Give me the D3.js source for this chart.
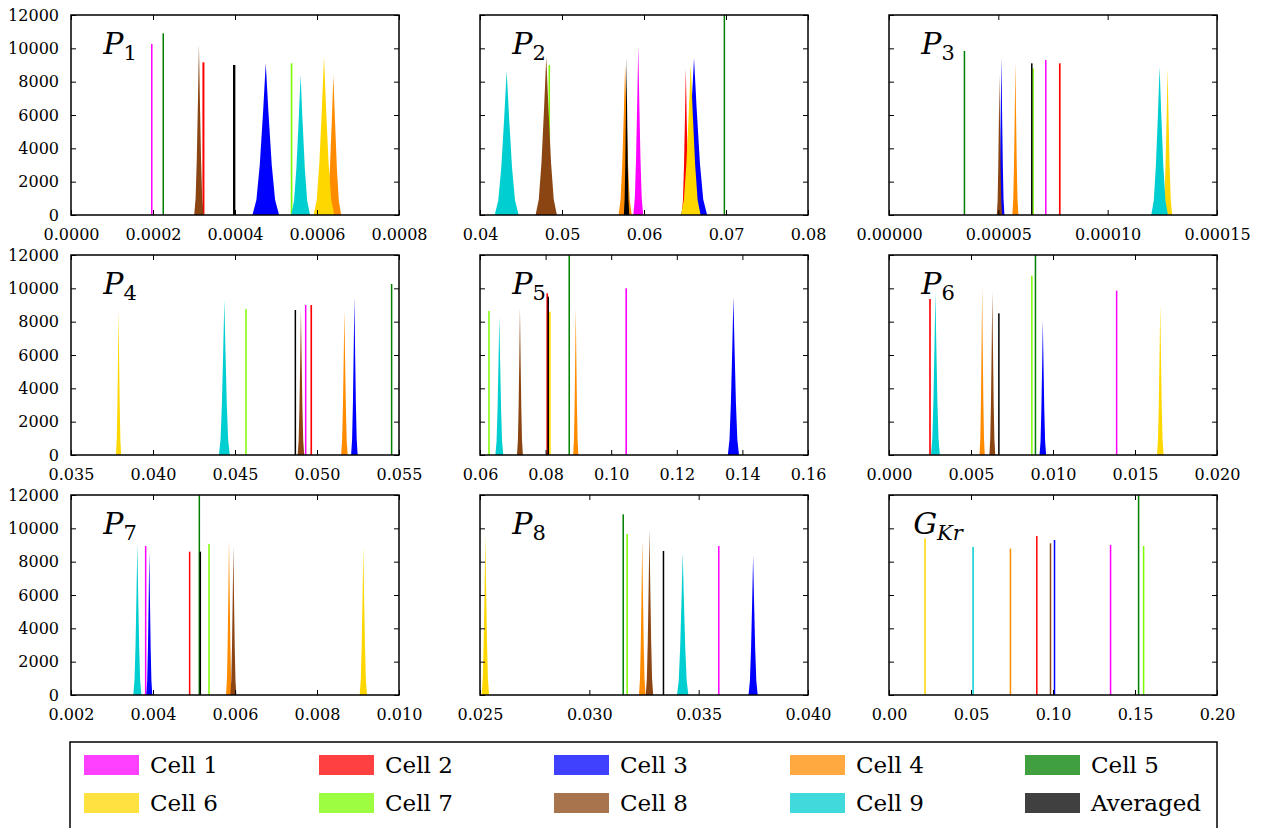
<!DOCTYPE html>
<html>
<head>
<meta charset="utf-8">
<title>Posterior histograms per parameter</title>
<script src="https://cdn.jsdelivr.net/npm/d3@7"></script>
<style>
  body { margin: 0; background: #fff; }
  svg text { font-family: "DejaVu Serif", serif; fill: #000; }
</style>
</head>
<body>
<div id="main"></div>
<script>
// series shown in every panel
var seriesNames = ['Cell 1', 'Cell 2', 'Cell 3', 'Cell 4', 'Cell 5',
                   'Cell 6', 'Cell 7', 'Cell 8', 'Cell 9', 'Averaged'];
var seriesColours = ['#ff00ff', '#ff0000', '#0000ff', '#ff8c00', '#008000',
                     '#ffd700', '#7cfc00', '#8b4513', '#00ced1', '#000000'];

// panel titles: [main symbol, subscript]
var panelLabels = [['P', '1'], ['P', '2'], ['P', '3'], ['P', '4'], ['P', '5'],
                   ['P', '6'], ['P', '7'], ['P', '8'], ['G', 'Kr']];

var xDomains = [[0, 0.0008], [0.04, 0.08], [0, 0.00015],
                [0.035, 0.055], [0.06, 0.16], [0, 0.02],
                [0.002, 0.010], [0.025, 0.040], [0, 0.20]];
var xTicks = [
  [0, 0.0002, 0.0004, 0.0006, 0.0008],
  [0.04, 0.05, 0.06, 0.07, 0.08],
  [0, 0.00005, 0.00010, 0.00015],
  [0.035, 0.040, 0.045, 0.050, 0.055],
  [0.06, 0.08, 0.10, 0.12, 0.14, 0.16],
  [0, 0.005, 0.010, 0.015, 0.020],
  [0.002, 0.004, 0.006, 0.008, 0.010],
  [0.025, 0.030, 0.035, 0.040],
  [0, 0.05, 0.10, 0.15, 0.20]
];
var xFormats = ['.4f', '.2f', '.5f', '.3f', '.2f', '.3f', '.3f', '.3f', '.2f'];
var yTicks = [0, 2000, 4000, 6000, 8000, 10000, 12000];

// each peak: [centre, peak count, half width of base], one row per series (null = not drawn)
var p1Peaks = [[0.000197, 10260, 2.4e-6], [0.000323, 9160, 4.9e-6], [0.000475, 9100, 3.25e-5],
               [0.000640, 8400, 1.9e-5], [0.000225, 10900, 1.6e-6], [0.000617, 9500, 2.5e-5],
               [0.000538, 9100, 4e-6], [0.000312, 10240, 1.15e-5], [0.000560, 8400, 2.3e-5],
               [0.000398, 9000, 5.7e-6]];
var p2Peaks = [[0.0593, 10160, 0.0006], [0.0651, 8800, 0.0005], [0.0661, 9400, 0.0016],
               [0.0577, 9000, 0.0008], [0.0698, 12500, 0.00008], [0.0657, 9040, 0.0012],
               [0.04845, 9000, 0.00008], [0.04808, 9500, 0.0013], [0.04325, 8640, 0.00146],
               [0.05787, 9500, 0.00033]];
var p3Peaks = [[7.17e-5, 9300, 4.6e-7], [7.81e-5, 9100, 7.6e-7], [5.14e-5, 9500, 1.4e-6],
               [5.78e-5, 9160, 1.4e-6], [3.45e-5, 9840, 3e-7], [1.274e-4, 8800, 2.1e-6],
               [6.59e-5, 8800, 4.6e-7], [5.05e-5, 8440, 1.2e-6], [1.2375e-4, 8900, 3.8e-6],
               [6.53e-5, 9100, 4.6e-7]];
var p4Peaks = [[0.04931, 9000, 8e-5], [0.04965, 9000, 1e-4], [0.05228, 9500, 2e-4],
               [0.05167, 8700, 2e-4], [0.05455, 10260, 4e-5], [0.0379, 8760, 1.6e-4],
               [0.04567, 8760, 6e-5], [0.04902, 8700, 2e-4], [0.04435, 9300, 3.3e-4],
               [0.04868, 8700, 6e-5]];
var p5Peaks = [[0.10457, 10000, 5e-4], [0.0805, 9700, 5e-4], [0.13726, 9500, 0.0017],
               [0.0892, 8840, 8e-4], [0.0872, 12500, 2e-4], [0.0813, 8600, 5e-4],
               [0.06274, 8640, 3e-4], [0.07218, 8800, 9e-4], [0.06589, 8300, 0.0012],
               [0.0808, 9500, 4e-4]];
var p6Peaks = [[0.01388, 9860, 6e-5], [0.0025, 9360, 1e-4], [0.00938, 8100, 2e-4],
               [0.00568, 10040, 1.6e-4], [0.00893, 12500, 4e-5], [0.01654, 9060, 2e-4],
               [0.00871, 10760, 6e-5], [0.0063, 9800, 1.8e-4], [0.00283, 9800, 2.7e-4],
               [0.0067, 8500, 6e-5]];
var p7Peaks = [[0.003821, 8940, 3.3e-5], [0.004894, 8600, 3.3e-5], [0.00391, 8640, 7.3e-5],
               [0.005854, 9340, 7.3e-5], [0.00513, 12500, 1.6e-5], [0.00913, 8900, 9e-5],
               [0.005366, 9060, 2.4e-5], [0.00596, 8940, 7.3e-5], [0.003618, 9060, 9.8e-5],
               [0.005154, 8600, 2.4e-5]];
var p8Peaks = [[0.03592, 8940, 6e-5], null, [0.03749, 8360, 2.1e-4],
               [0.03242, 9300, 1.5e-4], [0.03155, 10840, 3e-5], [0.025244, 9560, 1.7e-4],
               [0.03173, 9660, 4.5e-5], [0.03275, 9960, 1.7e-4], [0.03427, 8540, 2.6e-4],
               [0.03339, 8640, 4.5e-5]];
var p9Peaks = [[0.1351, 9000, 4e-4], [0.09013, 9540, 6e-4], [0.10092, 9300, 6e-4],
               [0.07406, 8780, 6e-4], [0.15219, 12500, 4e-4], [0.02197, 9400, 6e-4],
               [0.15524, 8940, 4e-4], [0.09847, 9100, 8e-4], [0.05127, 8880, 8e-4],
               null];
var panelPeaks = [p1Peaks, p2Peaks, p3Peaks, p4Peaks, p5Peaks, p6Peaks, p7Peaks, p8Peaks, p9Peaks];

// layout
var svgWidth = 1263, svgHeight = 828;
var colX = [71, 480, 889], rowY = [15, 255, 495];
var panelW = 328, panelH = 200;
var tickLen = 5;

// relative outline of one histogram peak (fraction of half width -> fraction of peak)
var shapeDx = [-1, -0.7, -0.45, -0.2, 0, 0.2, 0.45, 0.7, 1];
var shapeDy = [0, 0.1, 0.33, 0.68, 1, 0.68, 0.33, 0.1, 0];

var svg = d3.select('#main').append('svg')
  .attr('width', svgWidth)
  .attr('height', svgHeight);

var y = d3.scaleLinear().domain([0, 12000]).range([panelH, 0]);

panelPeaks.forEach(function(peaks, p) {
  var col = p % 3, row = Math.floor(p / 3);
  var g = svg.append('g')
    .attr('transform', 'translate(' + colX[col] + ',' + rowY[row] + ')');

  var x = d3.scaleLinear().domain(xDomains[p]).range([0, panelW]);

  g.append('clipPath').attr('id', 'clip' + p)
    .append('rect').attr('width', panelW).attr('height', panelH);

  var plot = g.append('g').attr('clip-path', 'url(#clip' + p + ')');

  peaks.forEach(function(pk, i) {
    if (!pk) return;
    var c = pk[0], h = pk[1], hw = pk[2];
    var halfPx = x(c + hw) - x(c);
    if (halfPx < 2.5) {
      // very narrow posterior: a single thin bar
      var w = Math.max(halfPx, 1.5);
      plot.append('rect')
        .attr('x', x(c) - w / 2)
        .attr('y', y(h))
        .attr('width', w)
        .attr('height', y(0) - y(h))
        .attr('fill', seriesColours[i]);
    } else {
      var pts = shapeDx.map(function(dx, k) { return [c + dx * hw, shapeDy[k] * h]; });
      var area = d3.area()
        .x(function(d) { return x(d[0]); })
        .y0(y(0))
        .y1(function(d) { return y(d[1]); });
      plot.append('path')
        .attr('d', area(pts))
        .attr('fill', seriesColours[i]);
    }
  });

  // axes, ticks pointing inward on all four sides
  var fmt = d3.format(xFormats[p]);
  var xb = d3.axisBottom(x).tickValues(xTicks[p]).tickFormat(fmt)
    .tickSizeInner(-tickLen).tickSizeOuter(0).tickPadding(14);
  var xt = d3.axisTop(x).tickValues(xTicks[p]).tickFormat('')
    .tickSizeInner(-tickLen).tickSizeOuter(0);
  var yl = d3.axisLeft(y).tickValues(yTicks).tickFormat(col === 0 ? d3.format('d') : '')
    .tickSizeInner(-tickLen).tickSizeOuter(0).tickPadding(12);
  var yr = d3.axisRight(y).tickValues(yTicks).tickFormat('')
    .tickSizeInner(-tickLen).tickSizeOuter(0);

  var axes = [
    g.append('g').attr('transform', 'translate(0,' + panelH + ')').call(xb),
    g.append('g').call(xt),
    g.append('g').call(yl),
    g.append('g').attr('transform', 'translate(' + panelW + ',0)').call(yr)
  ];
  axes.forEach(function(a) {
    a.attr('font-family', null);
    a.select('.domain').remove();
    a.selectAll('.tick line').attr('stroke', '#000').attr('stroke-width', 1);
    a.selectAll('.tick text')
      .style('font-family', '"DejaVu Serif", serif')
      .style('font-size', '16px')
      .attr('fill', '#000');
  });

  g.append('rect')
    .attr('width', panelW).attr('height', panelH)
    .attr('fill', 'none').attr('stroke', '#000').attr('stroke-width', 1.5);

  // panel title in math style
  var lab = g.append('text')
    .attr('x', 49).attr('y', 39)
    .attr('text-anchor', 'middle')
    .style('font-size', '30px');
  lab.append('tspan').style('font-style', 'italic').text(panelLabels[p][0]);
  lab.append('tspan')
    .attr('dy', 6)
    .style('font-size', '21px')
    .style('font-style', panelLabels[p][1] === 'Kr' ? 'italic' : 'normal')
    .text(panelLabels[p][1]);
});

// legend
var legendX = 70, legendY = 742, legendW = 1147;
var legColX = [84, 319, 554, 790, 1025];
var legRowY = [765, 803];
var legend = svg.append('g');
legend.append('rect')
  .attr('x', legendX).attr('y', legendY)
  .attr('width', legendW).attr('height', 120)
  .attr('fill', '#fff').attr('stroke', '#000').attr('stroke-width', 1.5);

var items = legend.selectAll('g.item')
  .data(seriesNames)
  .enter().append('g')
  .attr('class', 'item')
  .attr('transform', function(d, i) {
    return 'translate(' + legColX[i % 5] + ',' + legRowY[Math.floor(i / 5)] + ')';
  });
items.append('rect')
  .attr('x', 0).attr('y', -10)
  .attr('width', 55).attr('height', 20)
  .attr('fill', function(d, i) { return seriesColours[i]; })
  .attr('fill-opacity', 0.75);
items.append('text')
  .attr('x', 66).attr('y', 8)
  .style('font-size', '23px')
  .text(function(d) { return d; });
</script>
</body>
</html>
